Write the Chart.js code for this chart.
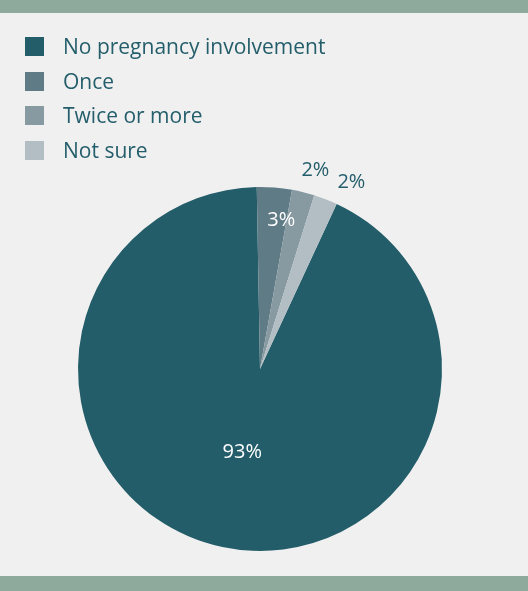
<!DOCTYPE html>
<html>
<head>
<meta charset="utf-8">
<script src="https://cdn.jsdelivr.net/npm/chart.js@4"></script>
<style>
  html, body { margin: 0; padding: 0; }
  body { width: 528px; height: 591px; background: #f0f0f0; position: relative; overflow: hidden; font-family: "Open Sans", sans-serif; }
  .band { position: absolute; left: 0; width: 528px; background: #8daa9c; }
  #legende { position: absolute; left: 25px; top: 37px; margin: 0; padding: 0; list-style: none; }
  #legende li { height: 34.5px; display: flex; align-items: flex-start; color: #245e6b; font-size: 21px; line-height: 19px; white-space: nowrap; }
  #legende span.box { width: 19px; height: 19px; margin-right: 19px; flex: none; }
  #grafico { position: absolute; left: 0; top: 0; }
</style>
</head>
<body>
<div class="band" style="top:0;height:13px"></div>
<div class="band" style="top:576px;height:15px"></div>
<canvas id="grafico" width="528" height="591"></canvas>
<ul id="legende"></ul>

<script>
// dados
const categorias = ['No pregnancy involvement', 'Once', 'Twice or more', 'Not sure'];
const valores = [92.8, 3.1, 2.0, 2.1];
const rotulos = ['93%', '3%', '2%', '2%'];
const cores = ['#225d69', '#5f7c86', '#8799a1', '#b2bec3'];
const corTexto = '#245e6b';

// legenda em html
const ul = document.getElementById('legende');
categorias.forEach((c, i) => {
  const li = document.createElement('li');
  li.innerHTML = '<span class="box" style="background:' + cores[i] + '"></span>' + c;
  ul.appendChild(li);
});

// rótulos de porcentagem
const rotulosPlugin = {
  id: 'rotulos',
  afterDatasetsDraw(chart) {
    const ctx = chart.ctx;
    const arcs = chart.getDatasetMeta(0).data;
    ctx.save();
    ctx.font = '20px "Open Sans"';
    ctx.textAlign = 'center';
    ctx.textBaseline = 'middle';
    let ultimoFora = null; // caixa do último rótulo externo
    arcs.forEach((arc, i) => {
      const { x, y, startAngle, endAngle, outerRadius } = arc.getProps(['x', 'y', 'startAngle', 'endAngle', 'outerRadius']);
      const mid = (startAngle + endAngle) / 2;
      const w = ctx.measureText(rotulos[i]).width;
      let px, py;
      if (valores[i] > 20) {
        px = x + Math.cos(mid) * outerRadius * 0.47;
        py = y + Math.sin(mid) * outerRadius * 0.47;
        ctx.fillStyle = '#ffffff';
      } else if (i === 1) {
        px = x + Math.cos(mid) * outerRadius * 0.82 + w / 3;
        py = y + Math.sin(mid) * outerRadius * 0.82;
        ctx.fillStyle = '#ffffff';
      } else {
        const r = outerRadius + 10;
        px = x + Math.cos(mid) * r + Math.sign(Math.cos(mid)) * w * 0.35;
        py = y + Math.sin(mid) * r + Math.sign(Math.sin(mid)) * 12;
        // evita sobreposição com o rótulo anterior
        if (ultimoFora && px - w / 2 < ultimoFora.dir + 8) {
          px = ultimoFora.dir + 8 + w / 2;
          py += 4;
        }
        ultimoFora = { dir: px + w / 2 };
        ctx.fillStyle = corTexto;
      }
      ctx.fillText(rotulos[i], px, py);
    });
    ctx.restore();
  }
};

new Chart(document.getElementById('grafico'), {
  type: 'pie',
  data: {
    labels: categorias,
    datasets: [{
      data: valores,
      backgroundColor: cores,
      borderWidth: 0
    }]
  },
  options: {
    responsive: false,
    animation: false,
    rotation: 24.9,
    layout: { padding: { left: 78, right: 86, top: 187, bottom: 40 } },
    plugins: {
      legend: { display: false },
      tooltip: { enabled: false }
    }
  },
  plugins: [rotulosPlugin]
});
</script>
</body>
</html>
